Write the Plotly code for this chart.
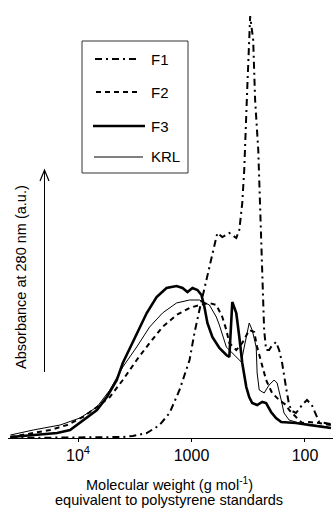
import plotly.graph_objects as go

# ---- data (molecular weight in g/mol, absorbance in a.u.) ----
f1_mw = [39450, 9600, 4030, 3300, 2480, 2030, 1910, 1560, 1275, 1040,
         942, 851, 739, 655, 592, 535, 464, 403, 379, 357,
         343, 323, 304, 286, 275, 258, 243, 238, 229, 220,
         207, 199, 180, 169, 159, 147, 138, 130, 120, 106,
         96, 87, 80, 75, 59]
f1_abs = [0, 1, 1, 2, 5, 11, 13, 25, 48, 78,
          105, 128, 157, 185, 205, 201, 205, 200, 208, 235,
          268, 348, 422, 398, 338, 288, 188, 148, 108, 88,
          88, 91, 96, 88, 75, 51, 33, 27, 25, 33,
          38, 33, 23, 16, 14]

f2_mw = [39450, 24800, 17600, 12480, 9040, 6810, 5240, 4030, 3040, 2340,
         1800, 1355, 1040, 851, 695, 604, 535, 493, 464, 403,
         357, 310, 280, 264, 243, 220, 195, 169, 147, 138,
         120, 106, 92, 75, 59]
f2_abs = [1, 5, 8, 13, 21, 31, 41, 58, 78, 95,
          111, 123, 130, 133, 135, 133, 121, 108, 95, 88,
          95, 108, 106, 91, 75, 58, 45, 38, 33, 28,
          21, 15, 16, 15, 13]

f3_mw = [39450, 24800, 15280, 11750, 9040, 6810, 5570, 4550, 4030, 3040,
         2480, 2030, 1660, 1355, 1200, 1085, 980, 886, 817, 769,
         724, 655, 568, 493, 464, 437, 403, 379, 357, 329,
         310, 292, 264, 238, 220, 199, 180, 162, 120, 92,
         59]
f3_abs = [1, 3, 5, 8, 18, 28, 41, 58, 75, 105,
          125, 141, 150, 152, 150, 146, 150, 148, 143, 131,
          115, 101, 90, 83, 81, 136, 125, 101, 75, 51,
          41, 35, 33, 36, 35, 26, 20, 16, 15, 13,
          10]

krl_mw = [39450, 24800, 14380, 9600, 6810, 5240, 4030, 3040, 2340, 1800,
          1355, 1040, 851, 695, 604, 568, 493, 403, 364, 343,
          310, 292, 269, 264, 253, 229, 207, 187, 176, 162,
          153, 138, 113, 62]
krl_abs = [3, 8, 13, 20, 31, 48, 71, 91, 111, 125,
           135, 138, 138, 133, 121, 113, 91, 81, 76, 91,
           115, 108, 91, 65, 48, 45, 53, 58, 55, 38,
           25, 18, 15, 11]

series_names = ["F1", "F2", "F3", "KRL"]
tick_vals = [10000, 1000, 100]
tick_text = ["10<sup>4</sup>", "1000", "100"]
x_title_lines = ["Molecular weight (g mol<sup>-1</sup>)",
                 "equivalent to polystyrene standards"]
y_title = "Absorbance at 280 nm (a.u.)"

FONT = "Liberation Sans, Arial, sans-serif"
W, H = 333, 510
ML, MR, MT, MB = 8, 0, 0, 72
PW, PH = W - ML - MR, H - MT - MB

def px(x):
    return (x - ML) / PW

def py(y):
    return (H - MB - y) / PH

styles = [
    dict(color="black", width=2, dash="7px,4px,2px,4px"),
    dict(color="black", width=2, dash="5px,4px"),
    dict(color="black", width=2.6),
    dict(color="black", width=1),
]
data = [(f1_mw, f1_abs), (f2_mw, f2_abs), (f3_mw, f3_abs), (krl_mw, krl_abs)]

fig = go.Figure()
for name, (xs, ys), st in zip(series_names, data, styles):
    fig.add_trace(go.Scatter(x=xs, y=ys, mode="lines", name=name,
                             line=st, showlegend=False))

# manual legend box
shapes = [dict(type="rect", xref="paper", yref="paper",
               x0=px(82), x1=px(188), y0=py(173), y1=py(41),
               line=dict(color="#333", width=1))]
annotations = []
leg_rows = [(59, 95, 137), (92, 96, 140), (126, 93, 145), (157, 94, 143)]
for name, st, (yy, xa, xb) in zip(series_names, styles, leg_rows):
    shapes.append(dict(type="line", xref="paper", yref="paper",
                       x0=px(xa), x1=px(xb), y0=py(yy), y1=py(yy), line=st))
    annotations.append(dict(xref="paper", yref="paper", x=px(149), y=py(yy),
                            xanchor="left", yanchor="middle", text=name,
                            showarrow=False,
                            font=dict(family=FONT, size=15, color="black")))

# y arrow
shapes.append(dict(type="line", xref="paper", yref="paper",
                   x0=px(44.5), x1=px(44.5), y0=py(372), y1=py(170),
                   line=dict(color="black", width=1)))
shapes.append(dict(type="path", xref="paper", yref="paper",
                   path=f"M {px(40)} {py(181)} L {px(44.5)} {py(170)} L {px(49)} {py(181)}",
                   line=dict(color="black", width=1.2)))

annotations.append(dict(xref="paper", yref="paper", x=px(21), y=py(277),
                        text=y_title, textangle=-90,
                        showarrow=False, xanchor="center", yanchor="middle",
                        font=dict(family=FONT, size=14.5, color="black")))
for txt, yy in zip(x_title_lines, [484, 500]):
    annotations.append(dict(xref="paper", yref="paper", x=px(169), y=py(yy),
                            text=txt, showarrow=False,
                            xanchor="center", yanchor="middle",
                            font=dict(family=FONT, size=14.5, color="black")))

fig.update_layout(
    width=W, height=H,
    margin=dict(l=ML, r=MR, t=MT, b=MB),
    paper_bgcolor="white", plot_bgcolor="white",
    shapes=shapes, annotations=annotations,
    font=dict(family=FONT, color="black"),
    xaxis=dict(type="log", range=[4.617, 1.753], tickvals=tick_vals,
               ticktext=tick_text, ticks="outside", ticklen=3,
               tickcolor="black", showline=True, linecolor="black",
               linewidth=1, showgrid=False, zeroline=False,
               tickfont=dict(family=FONT, size=16, color="black")),
    yaxis=dict(range=[0, 438], showticklabels=False, ticks="",
               showgrid=False, zeroline=False, showline=False),
)

fig.write_html("out.html")
